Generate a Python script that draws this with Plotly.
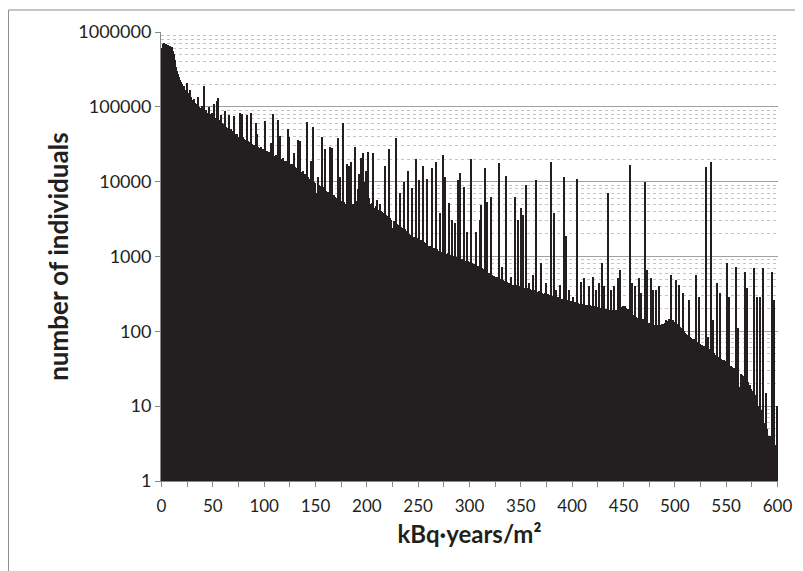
import plotly.graph_objects as go

# histogram bins (kBq*years/m2), one bar per unit
dose = list(range(0, 601))

individuals = [
    610000, 690000, 720000, 650000, 700000, 640000, 680000, 600000, 660000, 620000,
    640000, 560000, 510000, 420000, 340000, 300000, 275000, 250000, 230000, 215000,
    200000, 185000, 190000, 170000, 165000, 210000, 155000, 150000, 170000, 135000,
    125000, 118000, 128000, 112000, 105000, 110000, 135000, 100000, 96000, 104000,
    92000, 190000, 88000, 91000, 84000, 80000, 100000, 79000, 76000, 82000,
    74000, 110000, 72000, 68000, 120000, 130000, 66000, 64000, 78000, 61000,
    59000, 56000, 88000, 54000, 52000, 50000, 78000, 49000, 51000, 47000,
    45000, 76000, 44000, 42000, 43000, 40000, 82000, 41000, 79000, 39000,
    37000, 36000, 28000, 78000, 35000, 33000, 34000, 82000, 32000, 26000,
    31000, 30000, 60000, 43000, 29000, 23000, 28000, 29000, 22000, 27000,
    26000, 64000, 25000, 26000, 19000, 25000, 24000, 33000, 23000, 79000,
    22000, 18000, 23000, 66000, 21000, 41000, 20000, 16000, 21000, 19000,
    18500, 19000, 15000, 50000, 40000, 17000, 13500, 17000, 16000, 24000,
    15500, 12000, 15000, 36000, 14500, 35000, 11000, 13500, 14000, 10500,
    12500, 12000, 63000, 11500, 9000, 11000, 19000, 8500, 53000, 10000,
    9500, 7000, 11500, 9000, 6500, 8800, 40000, 8500, 6000, 27000,
    7500, 5500, 7200, 6800, 29000, 6500, 28000, 5000, 6600, 6200,
    6000, 4500, 38000, 5800, 11500, 5500, 4200, 60000, 5300, 4800,
    5100, 17000, 4000, 16000, 4900, 18500, 3800, 5000, 29000, 4700,
    5500, 8000, 12500, 9500, 21000, 11000, 24000, 10000, 9000, 14000,
    8500, 25000, 6000, 5000, 4600, 5200, 24000, 4500, 3600, 4800,
    5700, 4200, 3400, 5000, 4000, 3900, 3000, 3800, 16000, 3600,
    3500, 2800, 27000, 3300, 3100, 2400, 3000, 2900, 38000, 2700,
    2600, 2000, 7000, 2500, 2400, 1800, 10000, 2300, 2200, 1700,
    14000, 2000, 1950, 1500, 8200, 1850, 1800, 1400, 20000, 1750,
    1700, 10500, 1300, 1650, 1600, 16000, 1550, 1200, 1500, 11000,
    1400, 1100, 1380, 15000, 1300, 1050, 1280, 18500, 1250, 950,
    1200, 3800, 1150, 900, 23000, 1120, 11500, 1080, 850, 1100,
    5200, 1050, 820, 3100, 1020, 1000, 2800, 780, 980, 10500,
    950, 13000, 720, 930, 900, 8600, 880, 680, 2100, 870,
    850, 20000, 820, 640, 800, 780, 2100, 600, 750, 730,
    3100, 4900, 700, 540, 680, 15000, 650, 5400, 480, 600,
    580, 6300, 570, 450, 550, 540, 420, 530, 520, 18000,
    500, 400, 720, 490, 470, 370, 12000, 460, 440, 340,
    530, 420, 410, 330, 6300, 410, 405, 3100, 320, 400,
    4400, 395, 3600, 300, 385, 9000, 380, 290, 440, 370,
    360, 280, 570, 355, 350, 10500, 260, 340, 345, 250,
    820, 330, 320, 240, 325, 440, 315, 230, 310, 18500,
    300, 220, 3800, 295, 360, 210, 285, 280, 420, 200,
    270, 265, 11500, 190, 1900, 260, 255, 360, 180, 255,
    250, 290, 175, 245, 240, 11000, 240, 170, 235, 460,
    230, 160, 520, 228, 225, 155, 400, 222, 220, 150,
    530, 215, 212, 360, 145, 210, 440, 205, 140, 820,
    200, 400, 135, 198, 196, 7000, 130, 195, 360, 192,
    190, 400, 125, 192, 195, 520, 205, 660, 140, 210,
    220, 215, 205, 150, 200, 190, 16600, 180, 440, 120,
    165, 400, 155, 110, 150, 520, 148, 330, 100, 145,
    140, 10000, 135, 660, 95, 130, 128, 520, 90, 360,
    120, 118, 360, 85, 120, 400, 122, 80, 124, 126,
    130, 140, 90, 138, 145, 135, 570, 100, 140, 132,
    130, 480, 125, 85, 420, 115, 110, 75, 330, 100,
    95, 92, 60, 88, 260, 85, 82, 50, 80, 78,
    75, 570, 72, 45, 290, 67, 65, 40, 63, 62,
    15800, 60, 85, 58, 36, 18500, 54, 140, 52, 30,
    48, 440, 46, 28, 330, 43, 42, 25, 41, 40,
    38, 820, 36, 290, 22, 34, 33, 20, 32, 31,
    720, 29, 110, 18, 27, 26, 15, 25, 620, 23,
    380, 21, 11, 19, 17, 16, 8, 700, 14, 12,
    290, 10, 5, 290, 9, 7, 700, 3, 6, 15,
    5, 2, 4, 4, 3, 620, 2, 260, 3, 2,
    10,
]

x_ticks = [0, 50, 100, 150, 200, 250, 300, 350, 400, 450, 500, 550, 600]
y_ticks = [1, 10, 100, 1000, 10000, 100000, 1000000]
y_tick_labels = ["1", "10", "100", "1000", "10000", "100000", "1000000"]

font_family = "Lato, 'Open Sans', sans-serif"

fig = go.Figure()
fig.add_trace(
    go.Bar(
        x=dose,
        y=individuals,
        marker=dict(color="#231f20", line=dict(width=0)),
        hovertemplate="%{x}: %{y}<extra></extra>",
    )
)

# the page body adds 8px around the figure, so the figure is a bit smaller
fig.update_layout(
    width=795,
    height=563,
    margin=dict(l=153, r=25, t=24, b=90),
    paper_bgcolor="white",
    plot_bgcolor="white",
    bargap=0,
    showlegend=False,
    font=dict(family=font_family, color="#231f20"),
    # outer chart frame
    shapes=[
        dict(
            type="rect", xref="paper", yref="paper",
            x0=-0.2472, x1=1.0308, y0=-0.25, y1=1.049,
            line=dict(color="#8c8c8c", width=1),
        )
    ],
    # y title placed by hand, closer to the tick labels than plotly puts it
    annotations=[
        dict(
            text="<b>number of individuals</b>",
            xref="paper", yref="paper",
            x=-0.168, y=0.5,
            xanchor="center", yanchor="middle",
            textangle=-90,
            showarrow=False,
            font=dict(size=26),
        )
    ],
)

fig.update_xaxes(
    range=[-0.5, 600.5],
    tickmode="array",
    tickvals=x_ticks,
    ticks="outside",
    ticklen=5,
    tickcolor="#888888",
    ticklabelstandoff=5,
    minor=dict(dtick=25, tick0=0, ticks="outside", ticklen=5, tickcolor="#888888"),
    showline=True,
    linecolor="#888888",
    showgrid=False,
    tickfont=dict(size=17),
    title=dict(text="<b>kBq∙years/m²</b>", font=dict(size=24), standoff=10),
)

fig.update_yaxes(
    type="log",
    range=[0, 6],
    tickmode="array",
    tickvals=y_ticks,
    ticktext=y_tick_labels,
    ticks="outside",
    ticklen=5,
    tickcolor="#888888",
    showline=True,
    linecolor="#888888",
    showgrid=True,
    gridcolor="#a0a0a0",
    gridwidth=1,
    minor=dict(dtick="D1", showgrid=True, gridcolor="#c4c4c4", griddash="dot"),
    tickfont=dict(size=18),
)

fig.write_html("out.html")
